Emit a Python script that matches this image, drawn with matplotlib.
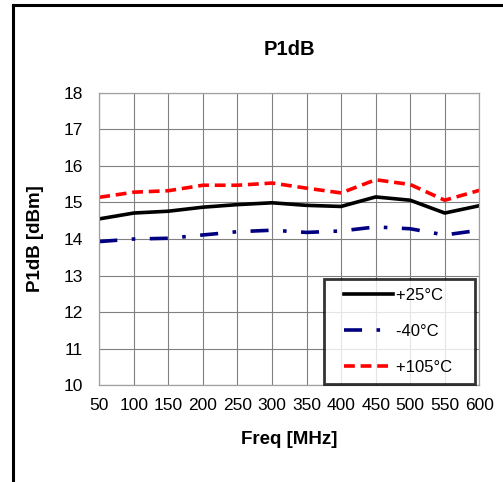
import matplotlib
matplotlib.use("Agg")
import numpy as np
import matplotlib.pyplot as plt
from matplotlib.lines import Line2D
from matplotlib.legend_handler import HandlerLine2D

freq = [50, 100, 150, 200, 250, 300, 350, 400, 450, 500, 550, 600]
p25 = [14.55, 14.71, 14.76, 14.87, 14.94, 14.99, 14.92, 14.89, 15.15, 15.06, 14.71, 14.91]
m40 = [13.93, 14.00, 14.02, 14.11, 14.20, 14.24, 14.18, 14.22, 14.33, 14.28, 14.11, 14.24]
p105 = [15.14, 15.28, 15.32, 15.47, 15.47, 15.53, 15.39, 15.26, 15.62, 15.49, 15.06, 15.33]
yticks = [10, 11, 12, 13, 14, 15, 16, 17, 18]

plt.rcParams['font.family'] = ['Liberation Sans', 'DejaVu Sans']


class TrimHandler(HandlerLine2D):
    """Legend line that leaves a blank gap at its left end."""
    def __init__(self, trim=0.2, **kw):
        super().__init__(**kw)
        self.trim = trim

    def create_artists(self, legend, orig_handle, xdescent, ydescent,
                       width, height, fontsize, trans):
        arts = super().create_artists(legend, orig_handle, xdescent, ydescent,
                                      width, height, fontsize, trans)
        for a in arts:
            x = np.asarray(a.get_xdata(), dtype=float)
            if len(x) >= 2:
                x0 = x[0] + (x[-1] - x[0]) * self.trim
                a.set_xdata(np.linspace(x0, x[-1], len(x)))
        return arts


fig = plt.figure(figsize=(5.03, 4.82), dpi=100)
ax = fig.add_axes([99.3/503, 1-385.3/482, (479.3-99.3)/503, (385.3-92.7)/482])

# figure frame (left and top visible)
fig.add_artist(Line2D([13/503, 13/503], [0, 1-5/482], color='black', lw=2.2, transform=fig.transFigure))
fig.add_artist(Line2D([13/503, 1.0], [1-5/482, 1-5/482], color='black', lw=2.2, transform=fig.transFigure))

l1, = ax.plot(freq, p25, color='black', lw=2.6, label='+25°C   ')
l2, = ax.plot(freq, m40, color='#000080', lw=2.6, linestyle=(0, (5, 4, 1, 4)), label='-40°C   ')
l3, = ax.plot(freq, p105, color='#ff0000', lw=2.6, linestyle=(0, (3, 1.6)), label='+105°C   ')

ax.set_xlim(50, 600)
ax.set_ylim(10, 18)
ax.set_xticks(freq)
ax.set_yticks(yticks)
ax.grid(True, color='#808080', lw=0.8)
ax.set_axisbelow(True)
for s in ax.spines.values():
    s.set_color('#a0a0a0')
    s.set_linewidth(0.9)
ax.tick_params(length=0, labelsize=12.5, pad=9)
ax.tick_params(axis='y', pad=12)

ax.set_title('P1dB', fontsize=14.5, fontweight='bold', pad=27)
ax.set_xlabel('Freq [MHz]', fontsize=13.5, fontweight='bold', labelpad=13)
ax.set_ylabel('P1dB [dBm]', fontsize=13.5, fontweight='bold', labelpad=14)

h = TrimHandler(trim=0.18)
leg = ax.legend(handles=[l1, l2, l3], loc='lower right', bbox_to_anchor=(0.989, 0.005),
                fontsize=12, frameon=True, fancybox=False, handlelength=3.6,
                labelspacing=1.25, borderpad=0.55, handletextpad=0.15, borderaxespad=0,
                handler_map={Line2D: h})
leg.get_frame().set_edgecolor('black')
leg.get_frame().set_linewidth(2)

fig.savefig('out.png', dpi=100)
